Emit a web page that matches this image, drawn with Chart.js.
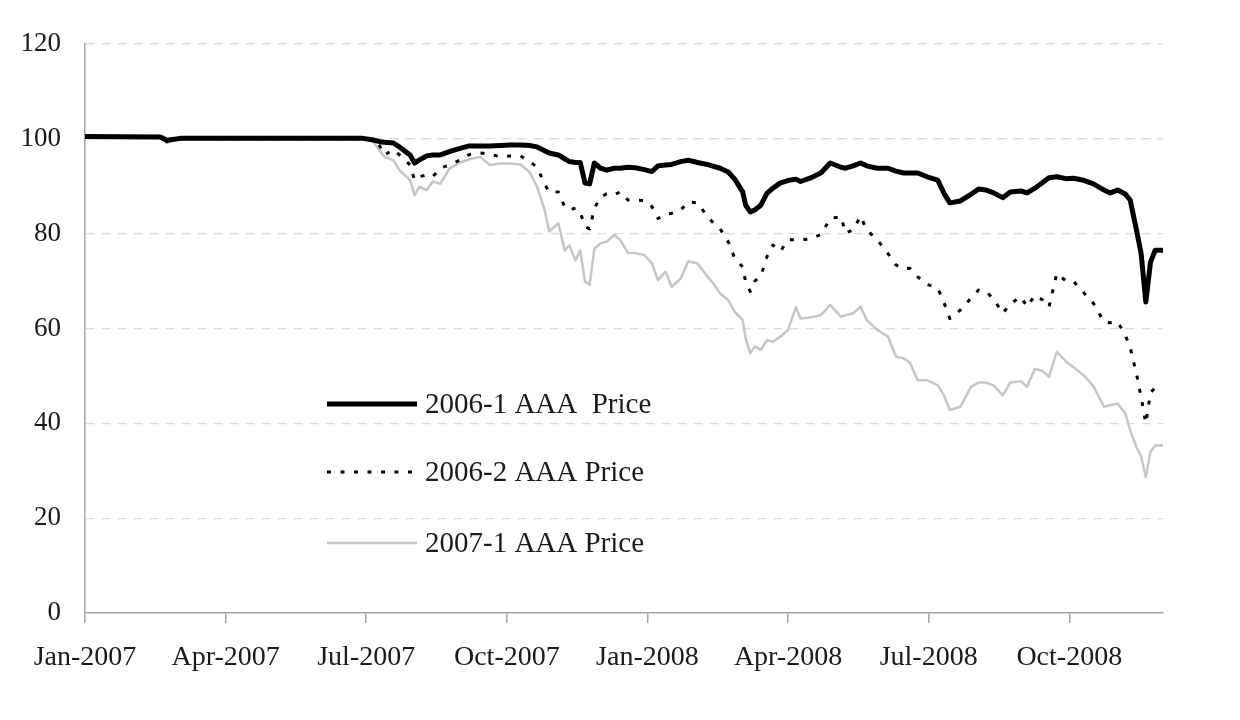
<!DOCTYPE html>
<html>
<head>
<meta charset="utf-8">
<title>AAA Price</title>
<script src="https://cdn.jsdelivr.net/npm/chart.js@4/dist/chart.umd.min.js"></script>
<style>
  html, body { margin: 0; padding: 0; background: #fff; }
  #wrap { width: 1240px; height: 720px; }
</style>
</head>
<body>
<div id="wrap"><canvas id="priceChart" width="1240" height="720"></canvas></div>
<script>
// observation dates (roughly weekly once prices start to move)
const dates = [
  '2007-01-01', '2007-02-18', '2007-02-22', '2007-03-02', '2007-03-08', '2007-06-29',
  '2007-07-05', '2007-07-10', '2007-07-13', '2007-07-19', '2007-07-23', '2007-07-30',
  '2007-08-02', '2007-08-05', '2007-08-10', '2007-08-14', '2007-08-19', '2007-08-25',
  '2007-09-01', '2007-09-07', '2007-09-14', '2007-09-20', '2007-09-27', '2007-10-03',
  '2007-10-10', '2007-10-16', '2007-10-21', '2007-10-26', '2007-10-29', '2007-11-04',
  '2007-11-08', '2007-11-11', '2007-11-15', '2007-11-18', '2007-11-21', '2007-11-24',
  '2007-11-27', '2007-12-01', '2007-12-05', '2007-12-10', '2007-12-14', '2007-12-19',
  '2007-12-24', '2007-12-30', '2008-01-04', '2008-01-08', '2008-01-13', '2008-01-17',
  '2008-01-23', '2008-01-28', '2008-02-03', '2008-02-09', '2008-02-13', '2008-02-17',
  '2008-02-22', '2008-02-26', '2008-03-02', '2008-03-04', '2008-03-07', '2008-03-10',
  '2008-03-14', '2008-03-18', '2008-03-22', '2008-03-27', '2008-04-01', '2008-04-06',
  '2008-04-09', '2008-04-15', '2008-04-22', '2008-04-28', '2008-05-05', '2008-05-08',
  '2008-05-13', '2008-05-18', '2008-05-22', '2008-05-29', '2008-06-05', '2008-06-10',
  '2008-06-15', '2008-06-19', '2008-06-24', '2008-06-30', '2008-07-07', '2008-07-11',
  '2008-07-15', '2008-07-22', '2008-07-29', '2008-08-03', '2008-08-08', '2008-08-13',
  '2008-08-19', '2008-08-24', '2008-08-31', '2008-09-04', '2008-09-09', '2008-09-14',
  '2008-09-18', '2008-09-23', '2008-09-29', '2008-10-04', '2008-10-11', '2008-10-17',
  '2008-10-24', '2008-10-28', '2008-11-02', '2008-11-07', '2008-11-10', '2008-11-14',
  '2008-11-17', '2008-11-20', '2008-11-23', '2008-11-26', '2008-12-01'
];

const price2006_1 = [
  100.5, 100.4, 99.7, 100.1, 100.1, 100.1,
  99.8, 99.4, 99.3, 99.1, 98.3, 96.6,
  94.9, 95.5, 96.4, 96.6, 96.6, 97.3,
  98.0, 98.5, 98.5, 98.5, 98.6, 98.7,
  98.7, 98.6, 98.3, 97.5, 97.0, 96.6,
  95.8, 95.2, 95.0, 95.0, 90.7, 90.5,
  94.9, 93.8, 93.4, 93.8, 93.8, 94.0,
  93.9, 93.5, 93.1, 94.3, 94.5, 94.6,
  95.2, 95.5, 95.0, 94.6, 94.2, 93.8,
  93.0, 91.5, 88.8, 86.0, 84.6, 85.0,
  86.0, 88.5, 89.6, 90.7, 91.2, 91.5,
  91.0, 91.7, 92.8, 94.9, 94.0, 93.8,
  94.3, 94.9, 94.3, 93.8, 93.8, 93.2,
  92.8, 92.8, 92.8, 92.0, 91.3, 88.6,
  86.5, 86.9, 88.3, 89.4, 89.2, 88.6,
  87.6, 88.8, 89.0, 88.6, 89.6, 90.8,
  91.8, 92.0, 91.6, 91.7, 91.2, 90.5,
  89.2, 88.6, 89.2, 88.3, 87.1, 80.8,
  75.8, 65.6, 74.0, 76.5, 76.5
];

const price2006_2 = [
  100.4, 100.4, 99.4, 100.0, 100.0, 100.0,
  99.6, 98.5, 96.6, 97.7, 96.6, 94.5,
  91.3, 92.0, 92.4, 92.0, 93.8, 94.5,
  95.5, 96.7, 97.0, 96.8, 96.2, 96.4,
  96.4, 95.3, 94.0, 90.5, 88.8, 88.8,
  85.7, 85.0, 85.4, 84.5, 81.5, 81.0,
  85.3, 87.7, 88.4, 88.2, 88.8, 87.1,
  87.1, 87.0, 85.7, 83.2, 84.0, 84.3,
  85.0, 86.7, 86.5, 83.6, 82.2, 81.0,
  78.3, 74.8, 73.0, 69.8, 67.8, 70.0,
  71.0, 75.1, 77.6, 76.3, 78.7, 78.7,
  78.7, 78.9, 79.8, 83.2, 83.6, 80.1,
  80.8, 83.7, 80.8, 78.7, 75.8, 73.4,
  72.6, 72.7, 70.9, 69.3, 68.5, 65.6,
  62.1, 63.9, 66.4, 68.1, 67.8, 66.2,
  63.2, 65.2, 66.7, 64.6, 67.0, 66.0,
  64.5, 71.6, 70.0, 69.9, 67.4, 65.3,
  61.4, 61.2, 61.4, 58.5, 56.0, 50.5,
  45.5, 40.0, 46.5, 47.5, 48.0
];

const price2007_1 = [
  100.2, 100.2, 99.2, 99.9, 99.9, 99.9,
  99.7, 97.5, 96.2, 95.5, 93.4, 91.3,
  88.1, 89.9, 89.2, 91.0, 90.5, 93.7,
  95.0, 95.7, 96.2, 94.5, 94.8, 94.8,
  94.6, 93.0, 89.9, 85.0, 80.5, 82.2,
  76.5, 77.5, 74.4, 76.5, 69.9, 69.2,
  76.8, 78.0, 78.3, 79.7, 78.7, 76.0,
  75.9, 75.5, 73.7, 70.2, 72.0, 68.8,
  70.5, 74.2, 73.7, 71.0, 69.4, 67.4,
  66.0, 63.5, 61.8, 57.8, 54.8, 56.2,
  55.5, 57.6, 57.2, 58.3, 59.7, 64.5,
  62.1, 62.3, 62.8, 65.0, 62.5, 62.8,
  63.2, 64.6, 61.8, 59.7, 58.3, 54.1,
  53.7, 52.8, 49.1, 49.1, 48.0, 46.0,
  42.8, 43.5, 47.7, 48.6, 48.6, 48.0,
  45.9, 48.6, 48.9, 47.7, 51.5, 51.0,
  49.8, 55.1, 53.0, 51.8, 50.0, 47.8,
  43.5, 43.8, 44.2, 42.0, 38.5, 35.0,
  33.0, 28.7, 34.0, 35.3, 35.4
];

const seriesNames = ['2006-1 AAA  Price', '2006-2 AAA Price', '2007-1 AAA Price'];
const tickMonths = [0, 3, 6, 9, 12, 15, 18, 21];
const tickLabels = ['Jan-2007', 'Apr-2007', 'Jul-2007', 'Oct-2007',
                    'Jan-2008', 'Apr-2008', 'Jul-2008', 'Oct-2008'];

const serif = '"Liberation Serif", "Times New Roman", serif';
const ink = '#1a1a1a';
const axisGray = '#a6a6a6';

// months since Jan 2007, so every month gets the same width like the original axis
function toMonth(s) {
    const [y, m, d] = s.split('-').map(Number);
    const dim = new Date(y, m, 0).getDate();
    return (y - 2007) * 12 + (m - 1) + (d - 1) / dim;
}

const xs = dates.map(toMonth);
const pts = arr => arr.map((v, i) => ({ x: xs[i], y: v }));

// legend sits inside the plot, under the curves
const innerLegend = {
    id: 'innerLegend',
    afterDatasetsDraw(chart, args, opts) {
        const ctx = chart.ctx;
        ctx.save();
        chart.data.datasets.forEach(function (ds, i) {
            const y = opts.rows[i];
            ctx.beginPath();
            ctx.strokeStyle = ds.borderColor;
            ctx.lineWidth = ds.borderWidth;
            ctx.setLineDash(ds.borderDash || []);
            ctx.moveTo(opts.x, y);
            ctx.lineTo(opts.x + opts.lineLen, y);
            ctx.stroke();
            ctx.setLineDash([]);
            ctx.fillStyle = ink;
            ctx.font = '29px ' + serif;
            ctx.textBaseline = 'middle';
            ctx.fillText(ds.label, opts.x + opts.lineLen + 8, y + 1);
        });
        ctx.restore();
    }
};

new Chart(document.getElementById('priceChart').getContext('2d'), {
    type: 'line',
    data: {
        datasets: [
            {
                label: seriesNames[0],
                data: pts(price2006_1),
                borderColor: '#000000',
                borderWidth: 5,
            },
            {
                label: seriesNames[1],
                data: pts(price2006_2),
                borderColor: '#000000',
                borderWidth: 3,
                borderDash: [4, 9.5],
            },
            {
                label: seriesNames[2],
                data: pts(price2007_1),
                borderColor: '#c6c6c6',
                borderWidth: 2.5,
            }
        ]
    },
    options: {
        responsive: false,
        animation: false,
        layout: { padding: { top: 44, right: 77, left: 0, bottom: 0 } },
        elements: {
            point: { radius: 0 },
            line: { tension: 0, borderJoinStyle: 'round', borderCapStyle: 'butt' }
        },
        plugins: {
            legend: { display: false },
            tooltip: { enabled: false },
            innerLegend: { x: 327, lineLen: 90, rows: [404, 472, 543] }
        },
        scales: {
            x: {
                type: 'linear',
                min: 0,
                max: 23,
                afterBuildTicks: function (s) { s.ticks = tickMonths.map(v => ({ value: v })); },
                afterFit: function (s) { s.height = 107; },
                grid: { drawOnChartArea: false, drawTicks: true, tickLength: 10, color: axisGray, lineWidth: 1.5 },
                border: { color: axisGray, width: 1.5 },
                ticks: {
                    font: { family: serif, size: 28 }, color: ink,
                    padding: 18, maxRotation: 0, autoSkip: false,
                    callback: function (v) { return tickLabels[tickMonths.indexOf(v)]; }
                }
            },
            y: {
                min: 0,
                max: 120,
                afterFit: function (s) { s.width = 85; },
                grid: {
                    drawTicks: false,
                    color: ctx => ctx.tick && ctx.tick.value === 0 ? 'rgba(0,0,0,0)' : '#dcdcdc',
                    lineWidth: 1.2
                },
                border: { color: axisGray, width: 1.5, dash: [9, 7] },
                ticks: {
                    stepSize: 20,
                    font: { family: serif, size: 27 }, color: ink,
                    padding: 24
                }
            }
        }
    },
    plugins: [innerLegend]
});
</script>
</body>
</html>
